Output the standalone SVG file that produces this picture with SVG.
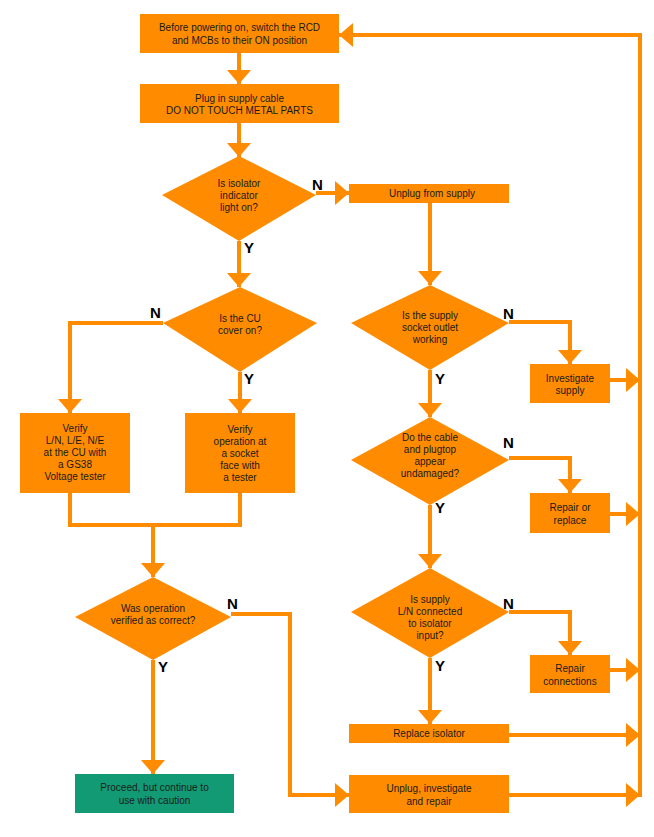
<svg xmlns="http://www.w3.org/2000/svg" width="654" height="837" viewBox="0 0 654 837">
<style>
.b{fill:#FF8C00}
.g{fill:#129A74}
.t{font-family:"Liberation Sans",Arial,sans-serif;font-size:10px;fill:#1a1a1a;text-anchor:middle}
.l{font-family:"Liberation Sans",Arial,sans-serif;font-size:15px;font-weight:bold;fill:#000}
.c{fill:none;stroke:#FF8C00;stroke-width:4;marker-end:url(#a)}
.p{fill:none;stroke:#FF8C00;stroke-width:4}
</style>
<defs>
<marker id="a" viewBox="0 -12 14 24" refX="14" refY="0" markerWidth="14" markerHeight="24" markerUnits="userSpaceOnUse" orient="auto">
<path d="M0,-12 L14,0 L0,12 z" fill="#FF8C00"/>
</marker>
</defs>
<rect width="654" height="837" fill="#fff"/>
<g id="connectors">
<path class="c" d="M239,53 V84"/>
<path class="c" d="M239,123 V157"/>
<path class="c" d="M316,193 H349"/>
<path class="c" d="M239,241 V287"/>
<path class="p" d="M163,323 H70 V400"/>
<path class="c" d="M70,323 V413"/>
<path class="c" d="M240,372 V413"/>
<path class="p" d="M70,493 V525 H240 V493"/>
<path class="c" d="M153,525 V577"/>
<path class="p" d="M231,614 H290 V795 H330"/>
<path class="c" d="M290,795 H349"/>
<path class="c" d="M153,660 V774"/>
<path class="c" d="M430,203 V285"/>
<path class="c" d="M430,370 V417"/>
<path class="c" d="M430,505 V568"/>
<path class="c" d="M430,658 V724"/>
<path class="c" d="M509,322 H570 V364"/>
<path class="c" d="M509,458 H570 V493"/>
<path class="c" d="M509,612 H570 V655"/>
<path class="c" d="M610,380 H640"/>
<path class="c" d="M610,514 H640"/>
<path class="c" d="M610,670 H640"/>
<path class="c" d="M509,735 H640"/>
<path class="c" d="M509,795 H640"/>
<path class="p" d="M640,797 V35"/>
<path class="c" d="M642,35 H339"/>
</g>
<g id="n1"><rect class="b" x="140" y="14" width="199" height="39"/><text class="t" x="239.5" y="31">Before powering on, switch the RCD</text><text class="t" x="239.5" y="44">and MCBs to their ON position</text></g>
<g id="n2"><rect class="b" x="140" y="84" width="199" height="39"/><text class="t" x="239.5" y="102">Plug in supply cable</text><text class="t" x="239.5" y="114">DO NOT TOUCH METAL PARTS</text></g>
<g id="d1"><polygon class="b" points="239,156 316,195 239,241 162,195"/><text class="t" x="239" y="187">Is isolator</text><text class="t" x="239" y="199">indicator</text><text class="t" x="239" y="211">light on?</text></g>
<g id="n3"><rect class="b" x="349" y="184" width="160" height="19"/><text class="t" x="432" y="197">Unplug from supply</text></g>
<g id="d2"><polygon class="b" points="240,287 317,323 240,372 163,323"/><text class="t" x="240" y="322">Is the CU</text><text class="t" x="240" y="334">cover on?</text></g>
<g id="n4"><rect class="b" x="20" y="413" width="110" height="80"/><text class="t" x="75" y="432">Verify</text><text class="t" x="75" y="444">L/N, L/E, N/E</text><text class="t" x="75" y="456">at the CU with</text><text class="t" x="75" y="468">a GS38</text><text class="t" x="75" y="480">Voltage tester</text></g>
<g id="n5"><rect class="b" x="185" y="413" width="110" height="80"/><text class="t" x="240" y="433">Verify</text><text class="t" x="240" y="445">operation at</text><text class="t" x="240" y="457">a socket</text><text class="t" x="240" y="469">face with</text><text class="t" x="240" y="481">a tester</text></g>
<g id="d3"><polygon class="b" points="153,577 231,617 153,660 75,617"/><text class="t" x="153" y="612">Was operation</text><text class="t" x="153" y="624">verified as correct?</text></g>
<g id="n6"><rect class="g" x="75" y="774" width="159" height="39"/><text class="t" x="154.5" y="791">Proceed, but continue to</text><text class="t" x="154.5" y="804">use with caution</text></g>
<g id="n7"><rect class="b" x="349" y="775" width="160" height="38"/><text class="t" x="429" y="792">Unplug, investigate</text><text class="t" x="429" y="805">and repair</text></g>
<g id="d4"><polygon class="b" points="430,285 509,323 430,370 351,323"/><text class="t" x="430" y="319">Is the supply</text><text class="t" x="430" y="331">socket outlet</text><text class="t" x="430" y="343">working</text></g>
<g id="n8"><rect class="b" x="530" y="364" width="80" height="39"/><text class="t" x="570" y="382">Investigate</text><text class="t" x="570" y="394">supply</text></g>
<g id="d5"><polygon class="b" points="430,417 509,460 430,505 351,460"/><text class="t" x="430" y="441">Do the cable</text><text class="t" x="430" y="453">and plugtop</text><text class="t" x="430" y="465">appear</text><text class="t" x="430" y="477">undamaged?</text></g>
<g id="n9"><rect class="b" x="530" y="493" width="80" height="40"/><text class="t" x="570" y="511">Repair or</text><text class="t" x="570" y="524">replace</text></g>
<g id="d6"><polygon class="b" points="430,568 509,612 430,658 351,612"/><text class="t" x="430" y="603">Is supply</text><text class="t" x="430" y="615">L/N connected</text><text class="t" x="430" y="627">to isolator</text><text class="t" x="430" y="639">input?</text></g>
<g id="n10"><rect class="b" x="530" y="655" width="80" height="38"/><text class="t" x="570" y="672">Repair</text><text class="t" x="570" y="685">connections</text></g>
<g id="n11"><rect class="b" x="349" y="724" width="160" height="19"/><text class="t" x="429" y="737">Replace isolator</text></g>
<g id="labels">
<text class="l" x="312" y="190">N</text><text class="l" x="244" y="253">Y</text>
<text class="l" x="150" y="318">N</text><text class="l" x="244" y="384">Y</text>
<text class="l" x="227" y="609">N</text><text class="l" x="158" y="672">Y</text>
<text class="l" x="503" y="319">N</text><text class="l" x="435" y="384">Y</text>
<text class="l" x="503" y="448">N</text><text class="l" x="435" y="513">Y</text>
<text class="l" x="503" y="609">N</text><text class="l" x="435" y="671">Y</text>
</g>
</svg>
